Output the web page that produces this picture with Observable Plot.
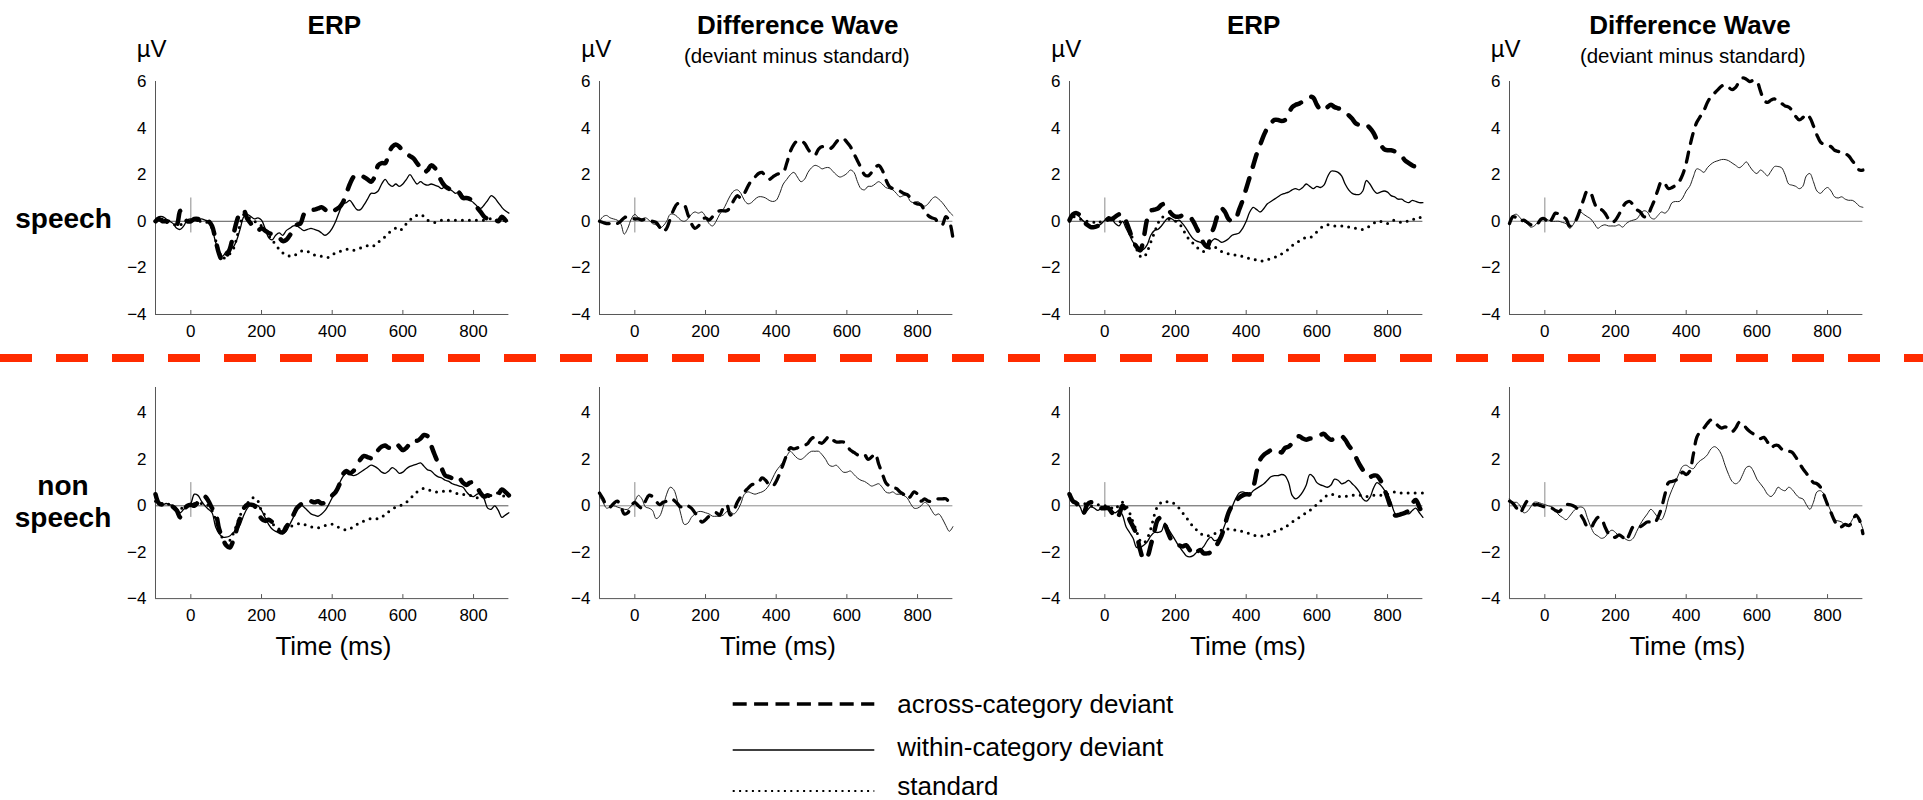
<!DOCTYPE html>
<html><head><meta charset="utf-8">
<script src="https://cdn.jsdelivr.net/npm/d3@7"></script>
<script src="https://cdn.jsdelivr.net/npm/@observablehq/plot@0.6"></script>
<style>
body{margin:0;background:#fff;}
#root{position:relative;width:1923px;height:800px;overflow:hidden;font-family:"Liberation Sans",Arial,Helvetica,sans-serif;}
.panel{position:absolute;}
#overlay{position:absolute;left:0;top:0;pointer-events:none;}
</style></head><body><div id="root"></div>
<script>
// ---------- data (µV, sampled every 10 ms from -100 to 900 ms) ----------
const time = d3.range(-100, 901, 10);
const xTicks = [0, 200, 400, 600, 800];
const yTicksTop = [-4, -2, 0, 2, 4, 6];
const yTicksBottom = [-4, -2, 0, 2, 4];
const panelTitles = ["ERP", "Difference Wave", "ERP", "Difference Wave"];
const panelSubtitles = ["", "(deviant minus standard)", "", "(deviant minus standard)"];
const rowLabels = [["speech"], ["non", "speech"]];
const legendLabels = ["across-category deviant", "within-category deviant", "standard"];
const unitLabel = "µV";
const xLabel = "Time (ms)";

// top row, left block
const speechL_erp_across = [0,0.1,0,0,-0.1,-0.1,-0.15,0.45,0.2,0, 0,0.1,0.1,0,0.05,0,-0.2,-0.8,-1.4,-1.7, -1.5,-1.2,-0.6,0,0.4,0.45,0.1,-0.1,-0.3,-0.4, -0.3,-0.4,-0.5,-0.55,-0.6,-0.7,-0.85,-0.8,-0.6,-0.4, -0.15,-0.1,0.3,0.45,0.5,0.5,0.55,0.6,0.5,0.35, 0.4,0.5,0.6,0.8,1.2,1.6,1.9,2.0,2.0,1.9, 1.8,1.7,1.9,2.4,2.5,2.5,2.9,3.2,3.3,3.2, 3.0,2.9,2.8,2.7,2.5,2.3,2.1,2.2,2.4,2.3, 2.0,1.7,1.5,1.4,1.3,1.3,1.2,1.0,1.0,0.95, 0.8,0.6,0.4,0.2,0.1,0.05,0.1,0,0.2,0.05, -0.1];
const speechL_erp_within = [0.1,0.2,0.2,0.1,0,-0.1,-0.3,-0.35,-0.2,0.05, 0.1,0.05,0,0.1,0.05,0,-0.3,-0.9,-1.3,-1.5, -1.3,-1.2,-1.1,-0.8,-0.3,0.2,0.3,0.2,0.1,0.15, 0.05,-0.3,-0.7,-0.8,-0.6,-0.5,-0.6,-0.4,-0.3,-0.2, -0.2,-0.3,-0.4,-0.35,-0.3,-0.35,-0.4,-0.5,-0.6,-0.5, -0.3,0,0.4,0.75,0.8,0.9,0.7,0.5,0.5,0.7, 0.95,1.2,1.2,1.3,1.6,1.8,1.6,1.5,1.6,1.5, 1.6,1.8,2.0,1.8,1.6,1.7,1.6,1.55,1.6,1.55, 1.5,1.4,1.5,1.4,1.3,1.2,1.3,1.1,1.0,0.9, 0.8,0.65,0.55,0.7,0.9,1.1,1.0,0.8,0.6,0.45, 0.35];
const speechL_erp_standard = [0,0.05,0.1,0.05,0,-0.1,-0.2,-0.15,-0.1,0, 0.1,0.05,0,0,0,-0.1,-0.3,-0.8,-1.3,-1.6, -1.5,-1.4,-1.2,-0.7,-0.1,0.3,0.2,0.1,0,-0.1, -0.2,-0.4,-0.6,-0.8,-1.0,-1.2,-1.35,-1.45,-1.5,-1.5, -1.4,-1.3,-1.25,-1.3,-1.35,-1.45,-1.5,-1.5,-1.55,-1.55, -1.45,-1.35,-1.3,-1.25,-1.2,-1.2,-1.25,-1.2,-1.15,-1.1, -1.05,-1.0,-1.05,-0.9,-0.8,-0.65,-0.5,-0.4,-0.3,-0.4, -0.3,-0.1,0.05,0.2,0.25,0.3,0.2,0.05,0,-0.05, 0,0.05,0.05,0.05,0.05,0.05,0.05,0.05,0.05,0.05, 0.05,0.05,0.05,0.05,0.1,0.1,0.05,0.05,0.05,0.05, 0.05];
const speechL_diff_across = [0,-0.05,-0.1,-0.1,-0.15,-0.1,0,0.15,0.2,0.15, 0.1,0.1,0.05,0.1,0.05,0,-0.05,-0.25,-0.45,-0.3, 0.1,0.5,0.75,0.75,0.7,0.3,-0.1,-0.3,-0.2,0.05, 0.15,0.05,0.2,0.35,0.45,0.45,0.45,0.6,0.9,1.1, 1.0,1.2,1.5,1.75,1.9,2.05,2.1,1.9,1.8,1.9, 2.0,2.05,2.1,2.5,3.0,3.3,3.45,3.45,3.35,3.1, 2.9,2.85,3.1,3.2,3.15,3.1,3.2,3.4,3.55,3.55, 3.4,3.2,2.9,2.6,2.3,2.0,1.95,2.1,2.3,2.4, 2.2,1.8,1.5,1.4,1.35,1.3,1.2,1.15,1.0,0.8, 0.75,0.7,0.45,0.25,0.15,0.1,-0.1,-0.15,0.2,0, -0.7];
const speechL_diff_within = [0,0.2,0.25,0.15,0.1,0.05,-0.1,-0.55,-0.3,0.1, 0.3,0.15,0.1,0.15,0.05,-0.1,-0.15,-0.3,-0.2,0, 0.3,0.3,0.2,0.05,0,0.1,0.3,0.4,0.35,0.4, 0.2,-0.1,-0.2,0,0.3,0.5,0.8,1.1,1.3,1.35, 1.2,0.9,0.75,0.8,0.95,1.05,1.05,1.0,0.9,0.85, 0.9,1.2,1.6,1.8,2.0,2.1,1.9,1.7,1.8,2.1, 2.3,2.4,2.35,2.25,2.3,2.3,2.15,2.0,1.9,1.95, 2.05,2.2,2.1,1.7,1.4,1.35,1.5,1.5,1.6,1.7, 1.6,1.45,1.4,1.35,1.2,1.05,1.1,1.1,0.85,0.8, 0.85,0.75,0.65,0.75,0.95,1.05,0.95,0.8,0.6,0.4, 0.25];
// top row, right block
const speechR_erp_across = [0.05,0.3,0.35,0.25,0,-0.15,-0.25,-0.25,-0.2,-0.1, -0.05,0.1,0.1,0.2,0.3,0.3,0,-0.4,-0.85,-1.1, -1.25,-0.7,0.1,0.45,0.5,0.55,0.7,0.75,0.5,0.3, 0.2,0.2,0.25,0.25,0.2,0,-0.3,-0.6,-0.95,-1.1, -0.6,-0.2,0.3,0.55,0.4,0.1,0,0.1,0.5,0.9, 1.4,1.9,2.4,2.9,3.3,3.7,4.0,4.2,4.35,4.35, 4.3,4.35,4.6,4.9,5.0,5.05,5.15,5.25,5.35,5.3, 5.0,4.8,4.75,4.9,5.0,4.9,4.85,4.8,4.65,4.55, 4.4,4.2,4.15,4.2,4.15,4.0,3.8,3.5,3.3,3.1, 3.05,3.05,3.0,2.9,2.8,2.6,2.5,2.4,2.35,2.4, 2.45];
const speechR_erp_within = [0.1,0.25,0.3,0.15,0,-0.1,-0.2,-0.2,-0.2,-0.1, 0.05,0.2,0.1,-0.1,-0.2,0,-0.3,-0.6,-0.9,-1.1, -1.25,-1.2,-1.0,-0.6,-0.4,-0.35,-0.2,0,0.15,0.1, 0,0.05,-0.1,-0.3,-0.55,-0.75,-0.85,-0.9,-0.95,-1.05, -0.9,-0.75,-0.8,-0.9,-0.85,-0.75,-0.6,-0.55,-0.5,-0.3, 0,0.4,0.6,0.5,0.4,0.55,0.75,0.85,0.95,1.05, 1.15,1.2,1.25,1.35,1.4,1.35,1.45,1.6,1.5,1.4, 1.5,1.45,1.55,1.9,2.15,2.15,2.1,1.95,1.6,1.35, 1.2,1.15,1.15,1.3,1.75,1.6,1.35,1.2,1.25,1.3, 1.25,1.1,1.05,0.95,0.95,0.85,0.8,0.9,0.85,0.8, 0.8];
const speechR_erp_standard = [0,0.2,0.15,0.1,0,0,0,-0.05,-0.1,0, 0.05,0.1,0.1,0.05,0,-0.05,-0.1,-0.4,-0.8,-1.2, -1.5,-1.55,-1.3,-0.9,-0.5,-0.1,0.15,0.2,0.1,0.05, 0,-0.1,-0.3,-0.6,-0.8,-0.95,-1.1,-1.25,-1.3,-1.25, -1.1,-1.1,-1.2,-1.3,-1.35,-1.4,-1.45,-1.45,-1.5,-1.5, -1.55,-1.6,-1.65,-1.65,-1.7,-1.7,-1.65,-1.6,-1.55,-1.5, -1.4,-1.3,-1.2,-1.05,-0.95,-0.85,-0.75,-0.7,-0.7,-0.6, -0.45,-0.3,-0.2,-0.15,-0.15,-0.2,-0.2,-0.2,-0.25,-0.25, -0.3,-0.3,-0.3,-0.35,-0.3,-0.2,-0.1,0,0,-0.05, -0.1,0,0.05,0,-0.05,0,0,0.05,0.15,0.15, 0.2];
const speechR_diff_across = [-0.1,0.2,0.15,0,0.05,-0.05,-0.15,-0.2,-0.1,0.1, 0.1,-0.1,0.1,0.35,0.3,0.2,0.1,-0.2,-0.15,0.1, 0.5,0.95,1.3,1.2,0.8,0.5,0.5,0.35,0.1,-0.05, 0.05,0.3,0.6,0.8,0.85,0.7,0.5,0.4,0.2,0.2, 0.55,0.9,1.35,1.7,1.6,1.4,1.45,1.55,1.7,2.0, 2.5,3.2,3.8,4.25,4.5,4.75,5.1,5.35,5.5,5.65, 5.8,5.85,5.75,5.65,5.75,6.0,6.15,6.1,6.0,6.05, 6.0,5.6,5.2,5.1,5.2,5.25,5.1,5.05,4.95,4.9, 4.75,4.5,4.35,4.45,4.6,4.45,4.1,3.7,3.4,3.3, 3.25,3.2,3.05,3.0,2.95,2.9,2.8,2.6,2.4,2.2, 2.2];
const speechR_diff_within = [-0.05,0.25,0.3,0.15,0,-0.1,-0.25,-0.2,-0.05,0.05, 0.1,0.05,0,0,0,-0.05,-0.1,-0.3,-0.15,0.15, 0.4,0.3,0.2,0.1,-0.1,-0.3,-0.2,-0.15,-0.2,-0.2, -0.2,-0.15,-0.25,-0.1,0,0.05,0.1,0.3,0.45,0.4, 0.15,0.1,0.25,0.4,0.35,0.5,0.8,0.85,0.85,1.0, 1.3,1.5,1.9,2.25,2.2,2.1,2.3,2.45,2.55,2.6, 2.65,2.65,2.6,2.5,2.4,2.3,2.4,2.55,2.35,2.15, 2.05,2.2,2.1,1.95,2.15,2.35,2.35,2.3,2.0,1.6, 1.55,1.5,1.4,1.5,1.95,2.05,1.7,1.3,1.2,1.35, 1.45,1.3,1.05,1.0,1.05,0.95,0.9,0.9,0.8,0.65, 0.6];
// bottom row, left block
const nonL_erp_across = [0.5,0.1,0.05,0.1,0.05,-0.05,-0.2,-0.5,-0.2,0, 0.05,0,0.15,0.35,0.4,0.2,-0.1,-0.3,-1.0,-1.4, -1.7,-1.8,-1.5,-1.0,-0.5,-0.1,0.05,0.05,0,-0.3, -0.55,-0.65,-0.6,-0.7,-0.9,-1.1,-1.15,-0.9,-0.7,-0.4, -0.1,0.05,0.15,0.25,0.2,0.15,0.2,0.1,0.15,0.3, 0.45,0.6,0.9,1.35,1.5,1.4,1.5,1.75,2.0,2.15, 2.1,2.05,2.1,2.4,2.55,2.6,2.5,2.6,2.7,2.55, 2.4,2.5,2.7,2.85,2.8,2.9,3.05,3.0,2.6,2.2, 1.85,1.6,1.3,1.25,1.2,1.3,1.2,1.0,0.9,1.0, 1.0,0.8,0.55,0.4,0.45,0.4,0.45,0.5,0.7,0.6, 0.45];
const nonL_erp_within = [0.2,0.15,0.05,0.1,0.05,0,-0.1,-0.3,-0.15,-0.05, 0.1,0.5,0.45,0.2,0,-0.15,-0.3,-0.9,-1.2,-1.35, -1.35,-1.3,-1.15,-1.05,-0.8,-0.4,-0.1,0.05,0.05,0, -0.2,-0.5,-0.8,-1.0,-1.1,-1.15,-1.2,-1.1,-0.8,-0.5, -0.2,0.05,-0.05,-0.2,-0.35,-0.4,-0.45,-0.35,-0.2,0.05, 0.35,0.65,0.95,1.25,1.4,1.35,1.3,1.35,1.45,1.55, 1.65,1.75,1.7,1.6,1.45,1.4,1.5,1.65,1.55,1.4, 1.45,1.6,1.7,1.75,1.8,1.85,1.7,1.55,1.5,1.35, 1.25,1.2,1.1,1.05,0.95,0.9,0.85,0.8,0.6,0.45, 0.4,0.5,0.55,0.3,-0.1,-0.15,0,-0.2,-0.5,-0.4, -0.3];
const nonL_erp_standard = [0.2,0.1,0.1,0.1,0.05,0,-0.1,-0.1,-0.1,0, 0.1,0.1,0.1,0.1,0.1,0,-0.2,-0.6,-1.1,-1.4, -1.65,-1.5,-1.2,-0.8,-0.4,-0.1,0.1,0.3,0.35,0.2, -0.2,-0.4,-0.55,-0.75,-0.9,-1.0,-1.05,-1.0,-0.9,-0.85, -0.8,-0.75,-0.8,-0.85,-0.9,-0.95,-0.95,-0.9,-0.85,-0.8, -0.8,-0.85,-0.95,-1.0,-1.05,-1.0,-0.9,-0.8,-0.75,-0.65, -0.6,-0.55,-0.55,-0.55,-0.5,-0.35,-0.25,-0.15,-0.05,0, 0.05,0.15,0.3,0.45,0.6,0.7,0.75,0.7,0.65,0.6, 0.6,0.6,0.65,0.65,0.6,0.55,0.5,0.5,0.45,0.45, 0.4,0.35,0.35,0.4,0.45,0.45,0.5,0.55,0.45,0.4, 0.35];
const nonL_diff_across = [0.55,0.3,0,-0.05,0.1,0.2,0,-0.35,-0.3,0, 0.15,0,-0.1,0.2,0.45,0.4,0.2,0.05,0.15,0.2, 0.3,0.25,0.1,-0.05,0.05,0,-0.1,-0.3,-0.5,-0.7, -0.6,-0.45,-0.35,-0.3,-0.4,-0.1,0.05,-0.4,-0.2,0.15, 0.4,0.6,0.75,0.9,0.95,1.0,1.2,1.1,0.9,0.85, 1.05,1.4,1.8,2.2,2.5,2.45,2.5,2.55,2.6,2.7, 2.9,2.95,2.75,2.7,2.85,3.0,2.85,2.75,2.75,2.75, 2.6,2.4,2.3,2.2,2.15,2.2,2.0,2.1,2.25,1.8, 1.4,1.0,0.85,0.75,0.75,0.6,0.5,0.3,0.4,0.6, 0.5,0.2,0.3,0.2,0.2,0.3,0.3,0.3,0.3,0.15, 0];
const nonL_diff_within = [0.4,0.15,-0.1,-0.05,0,-0.05,-0.1,-0.15,-0.15,0, 0.2,0.45,0.3,-0.05,-0.1,-0.2,-0.55,-0.45,-0.05,0.5, 0.8,0.7,0.25,-0.35,-0.8,-0.75,-0.5,-0.35,-0.25,-0.25, -0.3,-0.35,-0.45,-0.45,-0.45,-0.4,-0.25,-0.25,-0.35,-0.2, 0.1,0.5,0.6,0.55,0.5,0.55,0.6,0.7,0.9,1.2, 1.5,1.7,1.9,2.15,2.35,2.2,2.05,2.0,2.1,2.25, 2.35,2.35,2.35,2.2,2.0,1.75,1.7,1.75,1.6,1.45, 1.45,1.5,1.35,1.2,1.1,1.05,0.95,0.85,0.9,0.95, 0.8,0.6,0.55,0.6,0.5,0.5,0.45,0.35,0.1,-0.1, -0.1,0,0.15,0.05,-0.2,-0.4,-0.35,-0.55,-0.85,-1.1, -0.9];
// bottom row, right block
const nonR_erp_across = [0.5,0.2,0.1,-0.2,-0.3,0.05,0.15,0.1,-0.05,-0.1, -0.1,-0.1,-0.3,-0.55,-0.4,0,-0.2,-0.6,-0.9,-1.25, -1.9,-2.3,-2.2,-1.7,-1.1,-0.6,-0.5,-0.8,-1.2,-1.5, -1.6,-1.7,-1.75,-1.7,-1.9,-2.1,-2.0,-1.9,-2.05,-2.05, -2.0,-1.85,-1.6,-1.3,-0.8,-0.3,0,0.2,0.35,0.45, 0.5,0.5,0.8,1.5,2.0,2.2,2.3,2.4,2.45,2.4, 2.3,2.5,2.55,2.7,2.9,3.0,2.9,2.85,2.9,2.9, 2.95,3.05,3.1,2.95,2.85,2.9,3.0,3.0,2.85,2.6, 2.4,2.1,1.8,1.55,1.3,1.25,1.3,1.3,1.1,0.75, 0.35,-0.1,-0.4,-0.4,-0.35,-0.3,-0.2,0.1,0.25,-0.05, -0.4];
const nonR_erp_within = [0.4,0.2,0.15,-0.05,-0.35,-0.2,-0.05,-0.1,-0.2,-0.1, -0.05,-0.1,-0.2,-0.3,-0.2,-0.4,-0.9,-1.15,-1.4,-1.8, -1.8,-1.7,-1.55,-1.3,-1.15,-1.15,-1.1,-0.75,-1.0,-1.25, -1.5,-1.75,-1.95,-2.15,-2.2,-2.15,-2.0,-1.9,-1.75,-1.5, -1.35,-1.5,-1.45,-1.2,-0.8,-0.4,-0.05,0.3,0.55,0.6, 0.55,0.5,0.65,0.75,0.85,0.95,1.1,1.25,1.3,1.3, 1.35,1.3,1.0,0.45,0.3,0.4,0.6,0.9,1.35,1.25, 1.0,0.9,0.85,0.8,0.9,1.15,1.1,0.95,1.0,1.1, 0.95,0.8,0.6,0.3,0.2,0.35,0.75,1.0,0.9,0.7, 0.5,0.15,-0.3,-0.45,-0.35,-0.3,-0.35,-0.2,-0.1,-0.3, -0.5];
const nonR_erp_standard = [0.5,0.15,0.1,0.1,0.1,0.05,0,0,0.05,0, 0,-0.05,-0.1,-0.15,0.05,0.15,0,-0.3,-0.7,-1.1, -1.5,-1.6,-1.4,-1.0,-0.4,0,0.15,0.2,0.15,0.15, 0.05,-0.1,-0.3,-0.5,-0.7,-0.9,-1.05,-1.2,-1.25,-1.3, -1.25,-1.2,-1.15,-1.05,-1.0,-1.0,-1.0,-1.05,-1.1,-1.1, -1.15,-1.2,-1.25,-1.3,-1.3,-1.3,-1.25,-1.2,-1.1,-1.05, -1.0,-0.95,-0.8,-0.7,-0.6,-0.5,-0.4,-0.3,-0.2,-0.05, 0.05,0.2,0.35,0.45,0.5,0.45,0.4,0.4,0.4,0.45, 0.45,0.45,0.45,0.45,0.4,0.4,0.45,0.45,0.45,0.45, 0.5,0.55,0.6,0.6,0.55,0.55,0.55,0.55,0.55,0.55, 0.55];
const nonR_diff_across = [0.2,0.1,-0.1,-0.3,-0.05,0.2,0.2,0.05,0.05,0, -0.05,-0.05,-0.1,-0.2,-0.25,-0.1,0.05,0.05,0,-0.1, -0.35,-0.6,-0.9,-0.95,-0.7,-0.5,-0.55,-0.9,-1.2,-1.35, -1.35,-1.25,-1.35,-1.5,-1.2,-0.9,-0.85,-0.9,-0.8,-0.7, -0.7,-0.75,-0.5,-0.1,0.5,1.0,1.05,1.1,1.25,1.45, 1.35,1.5,2.2,2.95,3.2,3.35,3.55,3.7,3.65,3.45, 3.35,3.4,3.35,3.2,3.35,3.6,3.55,3.35,3.2,3.1, 3.0,2.9,2.95,2.75,2.5,2.6,2.6,2.45,2.35,2.35, 2.3,2.1,1.85,1.6,1.4,1.2,1.0,0.95,0.8,0.45, 0.05,-0.3,-0.65,-0.9,-0.9,-0.8,-0.85,-0.7,-0.4,-0.6, -1.2];
const nonR_diff_within = [0.3,0.15,0.15,0,-0.3,-0.25,-0.05,0.15,0.15,0.1, 0.05,0,-0.05,-0.2,-0.4,-0.5,-0.6,-0.45,-0.25,-0.1, -0.05,-0.1,-0.5,-0.9,-1.2,-1.3,-1.4,-1.35,-1.15,-1.05, -1.15,-1.3,-1.35,-1.45,-1.5,-1.4,-1.1,-0.8,-0.55,-0.35, -0.15,-0.3,-0.5,-0.6,-0.3,0.3,0.7,1.05,1.4,1.7, 1.75,1.65,1.6,1.8,1.95,2.05,2.2,2.45,2.55,2.45, 2.2,1.75,1.35,1.05,0.95,1.05,1.35,1.65,1.7,1.5, 1.15,0.95,0.75,0.5,0.4,0.55,0.8,0.7,0.65,0.8, 0.7,0.5,0.35,0.3,0.05,-0.15,0.15,0.6,0.65,0.5, 0.1,-0.25,-0.6,-0.65,-0.7,-0.85,-0.85,-0.6,-0.4,-0.6, -1.0];

// ---------- layout ----------
const rows = [
  {top: 81, bottom: 314, domain: [-4, 6], ticks: yTicksTop},
  {top: 387.2, bottom: 598.3, domain: [-4, 5.1], ticks: yTicksBottom}
];
const panelLefts = [154.7, 599.3, 1069.3, 1508.7];
const plotW = 353.4;
const FONT = '"Liberation Sans", Arial, Helvetica, sans-serif';

const panels = [
  {row: 0, col: 0, kind: "erp",  across: speechL_erp_across, within: speechL_erp_within, standard: speechL_erp_standard},
  {row: 0, col: 1, kind: "diff", across: speechL_diff_across, within: speechL_diff_within},
  {row: 0, col: 2, kind: "erp",  across: speechR_erp_across, within: speechR_erp_within, standard: speechR_erp_standard},
  {row: 0, col: 3, kind: "diff", across: speechR_diff_across, within: speechR_diff_within},
  {row: 1, col: 0, kind: "erp",  across: nonL_erp_across, within: nonL_erp_within, standard: nonL_erp_standard},
  {row: 1, col: 1, kind: "diff", across: nonL_diff_across, within: nonL_diff_within},
  {row: 1, col: 2, kind: "erp",  across: nonR_erp_across, within: nonR_erp_within, standard: nonR_erp_standard},
  {row: 1, col: 3, kind: "diff", across: nonR_diff_across, within: nonR_diff_within}
];

const styles = {
  erp: {
    across: {stroke: "#000", strokeWidth: 4.5, strokeDasharray: "13,12", strokeLinecap: "round", strokeLinejoin: "round"},
    within: {stroke: "#000", strokeWidth: 1.3},
    standard: {stroke: "#000", strokeWidth: 3, strokeDasharray: "0,7", strokeLinecap: "round"}
  },
  diff: {
    across: {stroke: "#000", strokeWidth: 3.3, strokeDasharray: "10,9", strokeLinecap: "round", strokeLinejoin: "round"},
    within: {stroke: "#222", strokeWidth: 1}
  }
};

const root = document.getElementById("root");
const toRows = (vals) => vals.map((v, i) => ({time: time[i], uv: v}));

for (const p of panels) {
  const row = rows[p.row];
  const mL = 45, mR = 12, mT = 6, mB = 34;
  const plotH = row.bottom - row.top;
  const pxPerUnit = plotH / (row.domain[1] - row.domain[0]);
  const tickLen = 4 / pxPerUnit;
  const st = styles[p.kind];
  const marks = [
    Plot.ruleY([0], {stroke: p.kind === "erp" ? "#555" : "#8a8a8a", strokeWidth: 1}),
    Plot.ruleX([0], {y1: -0.5, y2: 1, stroke: "#8a8a8a", strokeWidth: 1}),
    Plot.ruleX([-100], {stroke: "#555", strokeWidth: 1}),
    Plot.ruleY([row.domain[0]], {stroke: "#555", strokeWidth: 1}),
    Plot.ruleX(xTicks, {y1: row.domain[0], y2: row.domain[0] + tickLen, stroke: "#555", strokeWidth: 1}),
    Plot.axisX({ticks: xTicks, tickSize: 0, tickPadding: 10, fontSize: 17, label: null}),
    Plot.axisY({ticks: row.ticks, tickSize: 0, tickPadding: 9, fontSize: 17, label: null})
  ];
  if (p.standard) marks.push(Plot.line(toRows(p.standard), {x: "time", y: "uv", curve: "catmull-rom", ...st.standard}));
  marks.push(Plot.line(toRows(p.within), {x: "time", y: "uv", curve: "catmull-rom", ...st.within}));
  marks.push(Plot.line(toRows(p.across), {x: "time", y: "uv", curve: "catmull-rom", ...st.across}));

  const chart = Plot.plot({
    width: mL + plotW + mR,
    height: mT + plotH + mB,
    marginLeft: mL, marginRight: mR, marginTop: mT, marginBottom: mB,
    x: {domain: [-100, 900], label: null},
    y: {domain: row.domain, label: null},
    style: {fontFamily: FONT, fontSize: "17px", color: "#000", background: "transparent", overflow: "visible"},
    marks
  });
  chart.classList.add("panel");
  chart.style.left = (panelLefts[p.col] - mL) + "px";
  chart.style.top = (row.top - mT) + "px";
  chart.style.maxWidth = "none";
  root.appendChild(chart);
}

// ---------- text, separator and legend ----------
const ov = d3.select(root).append("svg").attr("id", "overlay")
  .attr("width", 1923).attr("height", 800)
  .style("font-family", FONT);

// red dashed separator between rows
ov.append("line").attr("x1", 0).attr("x2", 1923).attr("y1", 358).attr("y2", 358)
  .attr("stroke", "#ff2b00").attr("stroke-width", 8).attr("stroke-dasharray", "32,24");

const titleX = [334.3, 797.7, 1253.7, 1690];
const subX = [0, 796.7, 0, 1692.7];
panelTitles.forEach((t, i) => {
  ov.append("text").attr("x", titleX[i]).attr("y", 34).attr("text-anchor", "middle")
    .attr("font-size", 26).attr("font-weight", "bold").text(t);
  if (panelSubtitles[i]) ov.append("text").attr("x", subX[i]).attr("y", 63).attr("text-anchor", "middle")
    .attr("font-size", 20.5).text(panelSubtitles[i]);
  ov.append("text").attr("x", panelLefts[i] - 18).attr("y", 56.7).attr("font-size", 24).text(unitLabel);
  ov.append("text").attr("x", panelLefts[i] + plotW / 2 + 2).attr("y", 655).attr("text-anchor", "middle")
    .attr("font-size", 26).text(xLabel);
});

// row labels
ov.append("text").attr("x", 63.5).attr("y", 228.3).attr("text-anchor", "middle")
  .attr("font-size", 28).attr("font-weight", "bold").text(rowLabels[0][0]);
rowLabels[1].forEach((t, i) => {
  ov.append("text").attr("x", 63).attr("y", 495 + i * 31.7).attr("text-anchor", "middle")
    .attr("font-size", 28).attr("font-weight", "bold").text(t);
});

// legend
const legY = [704, 750, 791];
const legTextY = [712.7, 756, 795];
const legStyles = [
  {w: 3.5, dash: "14,7.4", cap: "butt"},
  {w: 1.6, dash: null, cap: "butt"},
  {w: 2.2, dash: "2,4.4", cap: "butt"}
];
legendLabels.forEach((t, i) => {
  const l = ov.append("line").attr("x1", 732.7).attr("x2", 874.3).attr("y1", legY[i]).attr("y2", legY[i])
    .attr("stroke", "#000").attr("stroke-width", legStyles[i].w).attr("stroke-linecap", legStyles[i].cap);
  if (legStyles[i].dash) l.attr("stroke-dasharray", legStyles[i].dash);
  ov.append("text").attr("x", 897.3).attr("y", legTextY[i]).attr("font-size", 26).text(t);
});
</script>
</body></html>
